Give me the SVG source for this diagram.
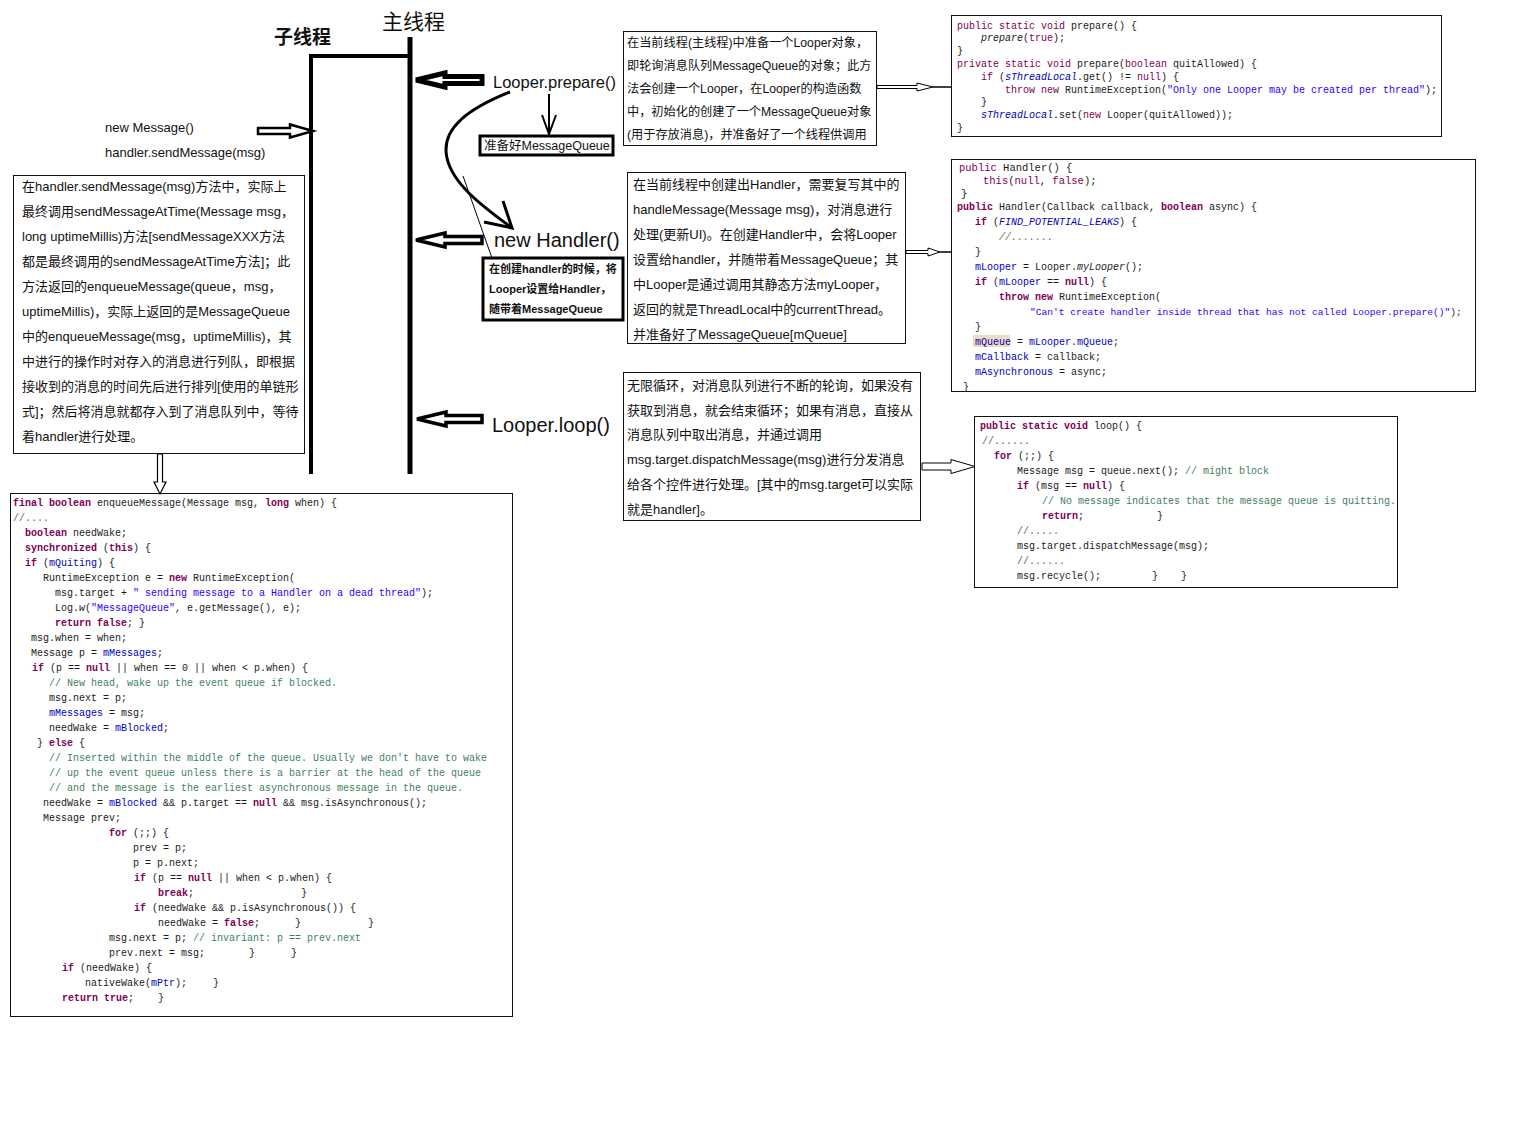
<svg xmlns="http://www.w3.org/2000/svg" width="1514" height="1136" viewBox="0 0 1514 1136">
<style>
.t { font-family: "Liberation Sans", "Noto Sans CJK SC", sans-serif; fill: #111; }
.t13 { font-size: 13px; }
.t12 { font-size: 12.2px; }
.code { font-family: "Liberation Mono", "DejaVu Sans Mono", monospace; font-size: 10px; fill: #1a1a1a; white-space: pre; }
.kw { fill: #7F0055; font-weight: bold; }
.kwn { fill: #7F0055; }
.str { fill: #2A00FF; }
.cm { fill: #3F7F5F; }
.fld { fill: #0000C0; }
.fi { fill: #0000C0; font-style: italic; }
.it { font-style: italic; }
.gr { fill: #666; }
.box { fill: #fff; stroke: #111; stroke-width: 1; }
.bbox { fill: #fff; stroke: #000; stroke-width: 3; }
.harrow { fill: #fff; stroke: #000; stroke-linejoin: miter; }
.thread { stroke: #000; fill: none; }
</style>
<rect x="0" y="0" width="1514" height="1136" fill="#fff"/>

<g id="threads">
  <text x="382" y="29" class="t" font-size="21">主线程</text>
  <text x="274" y="44" class="t" font-size="19" font-weight="bold">子线程</text>
  <line x1="410" y1="37" x2="410" y2="474" class="thread" stroke-width="5"/>
  <polyline points="311,474 311,56 410,56" class="thread" stroke-width="4"/>
</g>

<g id="new-message">
  <text x="105" y="132" class="t t13">new Message()</text>
  <text x="105" y="157" class="t t13">handler.sendMessage(msg)</text>
</g>

<g id="looper-prepare">
  <text x="493" y="88" class="t" font-size="16.5">Looper.prepare()</text>
</g>

<g id="prepared-queue">
  <rect x="480" y="136" width="133" height="19" class="bbox"/>
  <text x="484" y="150" class="t" font-size="12.5">准备好MessageQueue</text>
</g>

<g id="new-handler">
  <text x="494" y="247" class="t" font-size="20">new Handler()</text>
</g>

<g id="handler-note">
  <rect x="483" y="258" width="140" height="62" class="bbox"/>
  <text x="489" y="273" class="t" font-size="11" font-weight="bold">在创建handler的时候，将</text>
  <text x="489" y="293" class="t" font-size="11" font-weight="bold">Looper设置给Handler，</text>
  <text x="489" y="313" class="t" font-size="11" font-weight="bold">随带着MessageQueue</text>
</g>

<g id="looper-loop">
  <text x="492" y="432" class="t" font-size="20">Looper.loop()</text>
</g>

<g id="send-note">
  <rect x="13.5" y="175.5" width="291" height="278" class="box"/>
  <text class="t t13">
    <tspan x="22" y="191">在handler.sendMessage(msg)方法中，实际上</tspan>
    <tspan x="22" y="216">最终调用sendMessageAtTime(Message msg，</tspan>
    <tspan x="22" y="241">long uptimeMillis)方法[sendMessageXXX方法</tspan>
    <tspan x="22" y="266">都是最终调用的sendMessageAtTime方法]；此</tspan>
    <tspan x="22" y="291">方法返回的enqueueMessage(queue，msg，</tspan>
    <tspan x="22" y="316">uptimeMillis)，实际上返回的是MessageQueue</tspan>
    <tspan x="22" y="341">中的enqueueMessage(msg，uptimeMillis)，其</tspan>
    <tspan x="22" y="366">中进行的操作时对存入的消息进行列队，即根据</tspan>
    <tspan x="22" y="391">接收到的消息的时间先后进行排列[使用的单链形</tspan>
    <tspan x="22" y="416">式]；然后将消息就都存入到了消息队列中，等待</tspan>
    <tspan x="22" y="441">着handler进行处理。</tspan>
  </text>
</g>

<g id="prepare-note">
  <rect x="623.5" y="31.5" width="253" height="114" class="box"/>
  <text class="t t12">
    <tspan x="627" y="46.5">在当前线程(主线程)中准备一个Looper对象，</tspan>
    <tspan x="627" y="69.5">即轮询消息队列MessageQueue的对象；此方</tspan>
    <tspan x="627" y="92.5">法会创建一个Looper，在Looper的构造函数</tspan>
    <tspan x="627" y="115.5">中，初始化的创建了一个MessageQueue对象</tspan>
    <tspan x="627" y="138.5">(用于存放消息)，并准备好了一个线程供调用</tspan>
  </text>
</g>

<g id="handler-desc">
  <rect x="627.5" y="172.5" width="278" height="171" class="box"/>
  <text class="t t13">
    <tspan x="633" y="189">在当前线程中创建出Handler，需要复写其中的</tspan>
    <tspan x="633" y="214">handleMessage(Message msg)，对消息进行</tspan>
    <tspan x="633" y="239">处理(更新UI)。在创建Handler中，会将Looper</tspan>
    <tspan x="633" y="264">设置给handler，并随带着MessageQueue；其</tspan>
    <tspan x="633" y="289">中Looper是通过调用其静态方法myLooper，</tspan>
    <tspan x="633" y="314">返回的就是ThreadLocal中的currentThread。</tspan>
    <tspan x="633" y="339">并准备好了MessageQueue[mQueue]</tspan>
  </text>
</g>

<g id="loop-desc">
  <rect x="623.5" y="372.5" width="297" height="148" class="box"/>
  <text class="t t13">
    <tspan x="627" y="389.5">无限循环，对消息队列进行不断的轮询，如果没有</tspan>
    <tspan x="627" y="414.5">获取到消息，就会结束循环；如果有消息，直接从</tspan>
    <tspan x="627" y="439">消息队列中取出消息，并通过调用</tspan>
    <tspan x="627" y="464">msg.target.dispatchMessage(msg)进行分发消息</tspan>
    <tspan x="627" y="489">给各个控件进行处理。[其中的msg.target可以实际</tspan>
    <tspan x="627" y="514">就是handler]。</tspan>
  </text>
</g>

<g id="prepare-code">
  <rect x="951.5" y="15.5" width="490" height="121" class="box"/>
  <g class="code" xml:space="preserve">
    <text x="957" y="28.5"><tspan class="kwn">public static void</tspan> prepare() {</text>
    <text x="981" y="41.3"><tspan class="it">prepare</tspan>(<tspan class="kwn">true</tspan>);</text>
    <text x="957" y="54.1">}</text>
    <text x="957" y="66.9"><tspan class="kwn">private static void</tspan> prepare(<tspan class="kwn">boolean</tspan> quitAllowed) {</text>
    <text x="981" y="79.7"><tspan class="kwn">if</tspan> (<tspan class="fi">sThreadLocal</tspan>.get() != <tspan class="kwn">null</tspan>) {</text>
    <text x="1005" y="92.5"><tspan class="kwn">throw new</tspan> RuntimeException(<tspan class="str">"Only one Looper may be created per thread"</tspan>);</text>
    <text x="981" y="105.3">}</text>
    <text x="981" y="118.1"><tspan class="fi">sThreadLocal</tspan>.set(<tspan class="kwn">new</tspan> Looper(quitAllowed));</text>
    <text x="957" y="130.9">}</text>
  </g>
</g>

<g id="handler-code">
  <rect x="951.5" y="159.5" width="524" height="232" class="box"/>
  <rect x="973" y="335" width="37" height="12" fill="#EFDCC0"/>
  <g class="code" xml:space="preserve">
    <text x="959" y="170.5" font-size="10.5"><tspan class="kwn">public</tspan> Handler() {</text>
    <text x="983" y="183.5" font-size="10.5"><tspan class="kwn">this</tspan>(<tspan class="kwn">null</tspan>, <tspan class="kwn">false</tspan>);</text>
    <text x="961" y="196.5" font-size="10.5">}</text>
    <text x="957" y="209.5"><tspan class="kw">public</tspan> Handler(Callback callback, <tspan class="kw">boolean</tspan> async) {</text>
    <text x="975" y="224.5"><tspan class="kw">if</tspan> (<tspan class="fi">FIND_POTENTIAL_LEAKS</tspan>) {</text>
    <text x="999" y="239.5" class="gr it">//.......</text>
    <text x="975" y="254.5">}</text>
    <text x="975" y="269.5"><tspan class="fld">mLooper</tspan> = Looper.<tspan class="it">myLooper</tspan>();</text>
    <text x="975" y="284.5"><tspan class="kw">if</tspan> (<tspan class="fld">mLooper</tspan> == <tspan class="kw">null</tspan>) {</text>
    <text x="999" y="299.5"><tspan class="kw">throw new</tspan> RuntimeException(</text>
    <text x="1030" y="314.5" font-size="9.6"><tspan class="str">"Can't create handler inside thread that has not called Looper.prepare()"</tspan>);</text>
    <text x="975" y="329.5">}</text>
    <text x="975" y="344.5"><tspan class="fld">mQueue</tspan> = <tspan class="fld">mLooper</tspan>.<tspan class="fld">mQueue</tspan>;</text>
    <text x="975" y="359.5"><tspan class="fld">mCallback</tspan> = callback;</text>
    <text x="975" y="374.5"><tspan class="fld">mAsynchronous</tspan> = async;</text>
    <text x="963" y="389.5">}</text>
  </g>
</g>

<g id="loop-code">
  <rect x="974.5" y="416.5" width="423" height="171" class="box"/>
  <g class="code" xml:space="preserve">
    <text x="980" y="428.5"><tspan class="kw">public static void</tspan> loop() {</text>
    <text x="982" y="443.5" class="gr">//......</text>
    <text x="994" y="458.5"><tspan class="kw">for</tspan> (;;) {</text>
    <text x="1017" y="473.5">Message msg = queue.next(); <tspan class="cm">// might block</tspan></text>
    <text x="1017" y="488.5"><tspan class="kw">if</tspan> (msg == <tspan class="kw">null</tspan>) {</text>
    <text x="1042" y="503.5" class="cm">// No message indicates that the message queue is quitting.</text>
    <text x="1042" y="518.5"><tspan class="kw">return</tspan>;<tspan x="1157">}</tspan></text>
    <text x="1017" y="533.5" class="gr">//.....</text>
    <text x="1017" y="548.5">msg.target.dispatchMessage(msg);</text>
    <text x="1017" y="563.5" class="gr">//......</text>
    <text x="1017" y="578.5">msg.recycle();<tspan x="1152">}</tspan><tspan x="1181">}</tspan></text>
  </g>
</g>

<g id="enqueue-code">
  <rect x="10.5" y="493.5" width="502" height="523" class="box"/>
  <g class="code" xml:space="preserve">
    <text x="13" y="506"><tspan class="kw">final boolean</tspan> enqueueMessage(Message msg, <tspan class="kw">long</tspan> when) {</text>
    <text x="13" y="521" class="gr">//....</text>
    <text x="25" y="536"><tspan class="kw">boolean</tspan> needWake;</text>
    <text x="25" y="551"><tspan class="kw">synchronized</tspan> (<tspan class="kw">this</tspan>) {</text>
    <text x="25" y="566"><tspan class="kw">if</tspan> (<tspan class="fld">mQuiting</tspan>) {</text>
    <text x="43" y="581">RuntimeException e = <tspan class="kw">new</tspan> RuntimeException(</text>
    <text x="55" y="596">msg.target + <tspan class="str">" sending message to a Handler on a dead thread"</tspan>);</text>
    <text x="55" y="611">Log.<tspan class="it">w</tspan>(<tspan class="str">"MessageQueue"</tspan>, e.getMessage(), e);</text>
    <text x="55" y="626"><tspan class="kw">return false</tspan>; }</text>
    <text x="31" y="641">msg.when = when;</text>
    <text x="31" y="656">Message p = <tspan class="fld">mMessages</tspan>;</text>
    <text x="32" y="671"><tspan class="kw">if</tspan> (p == <tspan class="kw">null</tspan> || when == 0 || when &lt; p.when) {</text>
    <text x="49" y="686" class="cm">// New head, wake up the event queue if blocked.</text>
    <text x="49" y="701">msg.next = p;</text>
    <text x="49" y="716"><tspan class="fld">mMessages</tspan> = msg;</text>
    <text x="49" y="731">needWake = <tspan class="fld">mBlocked</tspan>;</text>
    <text x="37" y="746">} <tspan class="kw">else</tspan> {</text>
    <text x="49" y="761" class="cm">// Inserted within the middle of the queue.  Usually we don't have to wake</text>
    <text x="49" y="776" class="cm">// up the event queue unless there is a barrier at the head of the queue</text>
    <text x="49" y="791" class="cm">// and the message is the earliest asynchronous message in the queue.</text>
    <text x="43" y="806">needWake = <tspan class="fld">mBlocked</tspan> &amp;&amp; p.target == <tspan class="kw">null</tspan> &amp;&amp; msg.isAsynchronous();</text>
    <text x="43" y="821">Message prev;</text>
    <text x="109" y="836"><tspan class="kw">for</tspan> (;;) {</text>
    <text x="133" y="851">prev = p;</text>
    <text x="133" y="866">p = p.next;</text>
    <text x="134" y="881"><tspan class="kw">if</tspan> (p == <tspan class="kw">null</tspan> || when &lt; p.when) {</text>
    <text x="158" y="896"><tspan class="kw">break</tspan>;<tspan x="301">}</tspan></text>
    <text x="134" y="911"><tspan class="kw">if</tspan> (needWake &amp;&amp; p.isAsynchronous()) {</text>
    <text x="158" y="926">needWake = <tspan class="kw">false</tspan>;<tspan x="295">}</tspan><tspan x="368">}</tspan></text>
    <text x="109" y="941">msg.next = p; <tspan class="cm">// invariant: p == prev.next</tspan></text>
    <text x="109" y="956">prev.next = msg;<tspan x="249">}</tspan><tspan x="291">}</tspan></text>
    <text x="62" y="971"><tspan class="kw">if</tspan> (needWake) {</text>
    <text x="85" y="986">nativeWake(<tspan class="fld">mPtr</tspan>);<tspan x="213">}</tspan></text>
    <text x="62" y="1001"><tspan class="kw">return true</tspan>;<tspan x="158">}</tspan></text>
  </g>
</g>

<g id="connectors">
  <polygon points="416,80 445,73 445,76.5 482,76.5 482,83.5 445,83.5 445,87" class="harrow" stroke-width="5"/>
  <polygon points="416,240 445,233 445,236.5 482,236.5 482,243.5 445,243.5 445,247" class="harrow" stroke-width="3.5"/>
  <polygon points="417,419 446,412 446,415.5 482,415.5 482,422.5 446,422.5 446,426" class="harrow" stroke-width="3.5"/>
  <polygon points="258,128 290,128 290,124.5 313,131 290,137.5 290,134 258,134" class="harrow" stroke-width="2.5"/>
  <line x1="549" y1="94" x2="549" y2="134" stroke="#000" stroke-width="2"/>
  <polyline points="542,115 549,134 556,115" fill="none" stroke="#000" stroke-width="2"/>
  <path d="M 510 92 C 470 108, 440 128, 447 158 C 453 186, 488 210, 512 228" fill="none" stroke="#000" stroke-width="3"/>
  <polyline points="503,201 512,228 484,222" fill="none" stroke="#000" stroke-width="3"/>
  <line x1="463" y1="176" x2="492" y2="258" stroke="#000" stroke-width="1"/>
  <polygon points="877,85.5 917,85.5 917,83 933,87 917,91 917,88.5 877,88.5" class="harrow" stroke-width="1"/>
  <line x1="933" y1="87" x2="952" y2="87" stroke="#000" stroke-width="1.5"/>
  <polygon points="906,250.5 928,250.5 928,248 940,252 928,256 928,253.5 906,253.5" class="harrow" stroke-width="1"/>
  <line x1="940" y1="252" x2="951" y2="252" stroke="#000" stroke-width="1.5"/>
  <polygon points="922,463 951,463 951,459.5 975,466.5 951,473.5 951,470 922,470" class="harrow" stroke-width="1"/>
  <polygon points="157.5,454 162.5,454 162.5,482 166,482 160,494 154,482 157.5,482" class="harrow" stroke-width="1.2"/>
</g>
</svg>
